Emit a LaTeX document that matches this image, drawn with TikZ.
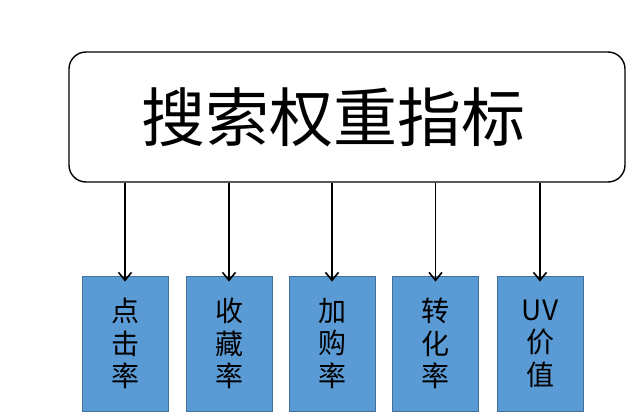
\documentclass[tikz,border=0pt]{standalone}
\usepackage{fontspec}
\setmainfont{Noto Sans CJK SC}
\usetikzlibrary{arrows.meta}
\definecolor{boxfill}{HTML}{5B9BD5}
\definecolor{boxline}{HTML}{41719C}
\begin{document}
\begin{tikzpicture}[x=1pt,y=-1pt,
  title/.style={draw=black, line width=1.4pt, rounded corners=17pt, minimum width=556pt, minimum height=130pt, inner sep=0pt, font=\fontsize{64}{70}\selectfont},
  metric/.style={draw=boxline, line width=0.8pt, fill=boxfill, minimum width=86pt, minimum height=135pt, inner sep=0pt, align=center, font=\fontsize{28}{32.5}\selectfont},
  link/.style={line width=1.6pt, -{Straight Barb[length=8pt,width=13pt,line width=1.6pt]}}
  ]
\useasboundingbox (0,0) rectangle (640,417);
\fill[white] (0,0) rectangle (640,417);
\node[title] (top) at (347,117) {\kern-28pt 搜索权重指标};
\node[metric] (m1) at (125,343.5) {点\\击\\率};
\node[metric] (m2) at (229,343.5) {收\\藏\\率};
\node[metric] (m3) at (332,343.5) {加\\购\\率};
\node[metric] (m4) at (435.5,343.5) {转\\化\\率};
\node[metric] (m5) at (540,343.5) {UV\\价\\值};
\foreach \i in {1,...,5} {
  \coordinate (s\i) at (top.south -| m\i.north);
  \coordinate (e\i) at ([yshift=-6pt]m\i.north);
  \draw[link] (s\i) -- (e\i);
}
\end{tikzpicture}
\end{document}
